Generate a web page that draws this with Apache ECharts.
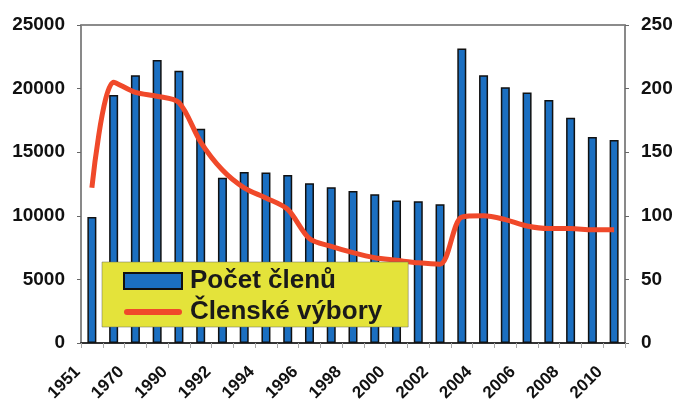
<!DOCTYPE html>
<html>
<head>
<meta charset="utf-8">
<script src="https://cdn.jsdelivr.net/npm/echarts@6/dist/echarts.min.js"></script>
<style>
  html, body { margin: 0; padding: 0; background: #fff; }
  #chart { width: 678px; height: 408px; }
</style>
</head>
<body>
<div id="chart"></div>
<script>
// roky (1960 a 1980 nemají popisek v originále)
var years = ['1951', '1960', '1970', '1980', '1990', '1991', '1992', '1993', '1994', '1995', '1996',
    '1997', '1998', '1999', '2000', '2001', '2002', '2003', '2004', '2005', '2006', '2007', '2008', '2009', '2010'];

// Počet členů (levá osa)
var members = [9900, 19500, 21050, 22250, 21400, 16850, 13000, 13450, 13400, 13200, 12550,
    12250, 11950, 11700, 11200, 11150, 10900, 23150, 21050, 20100, 19700, 19100, 17700, 16200, 15950];

// Členské výbory (pravá osa)
var committees = [122, 205, 197, 194, 189, 158, 136, 122, 114, 105, 82,
    76, 71, 67, 65, 63, 62, 99, 100, 97, 92, 90, 90, 89, 89];

var font = '"Liberation Sans", Arial, sans-serif';

var myChart = echarts.init(document.getElementById('chart'));

function plain(v) {
    return String(v);
}

var option = {
    animation: false,
    textStyle: { fontFamily: font },
    grid: {
        left: 81,
        right: 53,
        top: 25,
        bottom: 65,
        show: true,
        borderColor: '#666',
        borderWidth: 1.5
    },
    legend: {
        orient: 'vertical',
        left: 102,
        top: 262,
        backgroundColor: '#e4e33a',
        borderColor: '#666',
        borderWidth: 0.5,
        padding: [6, 26, 2, 21],
        itemWidth: 58,
        itemHeight: 16,
        itemGap: 5,
        textStyle: { fontSize: 26, fontWeight: 'bold', color: '#1a1a1a', fontFamily: font, padding: [0, 0, 0, 3] },
        data: [{
                name: 'Počet členů',
                icon: 'rect'
            },
            {
                name: 'Členské výbory',
                icon: 'path://M3,0 L55,0 A3,3 0 0 1 55,6 L3,6 A3,3 0 0 1 3,0 Z',
                itemStyle: { color: '#f0492a', borderWidth: 0 }
            }
        ]
    },
    xAxis: {
        type: 'category',
        data: years,
        axisLine: { lineStyle: { color: '#333', width: 2 } },
        axisTick: { show: true, interval: 0, length: 5, lineStyle: { color: '#aaa' } },
        axisLabel: {
            interval: 1,
            rotate: 45,
            margin: 12,
            padding: [0, 20, 0, 0],
            fontSize: 17,
            fontWeight: 'bold',
            color: '#111'
        }
    },
    yAxis: [{
            type: 'value',
            min: 0,
            max: 25000,
            interval: 5000,
            splitLine: { show: false },
            axisLine: { show: true, lineStyle: { color: '#888', width: 1.5 } },
            axisTick: { show: true, length: 4, lineStyle: { color: '#666' } },
            axisLabel: { margin: 16, fontSize: 19, fontWeight: 'bold', color: '#111', formatter: plain }
        },
        {
            type: 'value',
            min: 0,
            max: 250,
            interval: 50,
            splitLine: { show: false },
            axisLine: { show: true, lineStyle: { color: '#888', width: 1.5 } },
            axisTick: { show: true, length: 4, lineStyle: { color: '#666' } },
            axisLabel: { margin: 16, fontSize: 19, fontWeight: 'bold', color: '#111', formatter: plain }
        }
    ],
    series: [{
            name: 'Počet členů',
            type: 'bar',
            data: members,
            barWidth: 9,
            itemStyle: { color: '#1b6fc1', borderColor: '#111', borderWidth: 1.5 }
        },
        {
            name: 'Členské výbory',
            type: 'line',
            yAxisIndex: 1,
            data: committees,
            smooth: 0.3,
            symbol: 'none',
            lineStyle: { color: '#f0492a', width: 5 },
            itemStyle: { color: '#f0492a' }
        }
    ]
};

option && myChart.setOption(option);
</script>
</body>
</html>
